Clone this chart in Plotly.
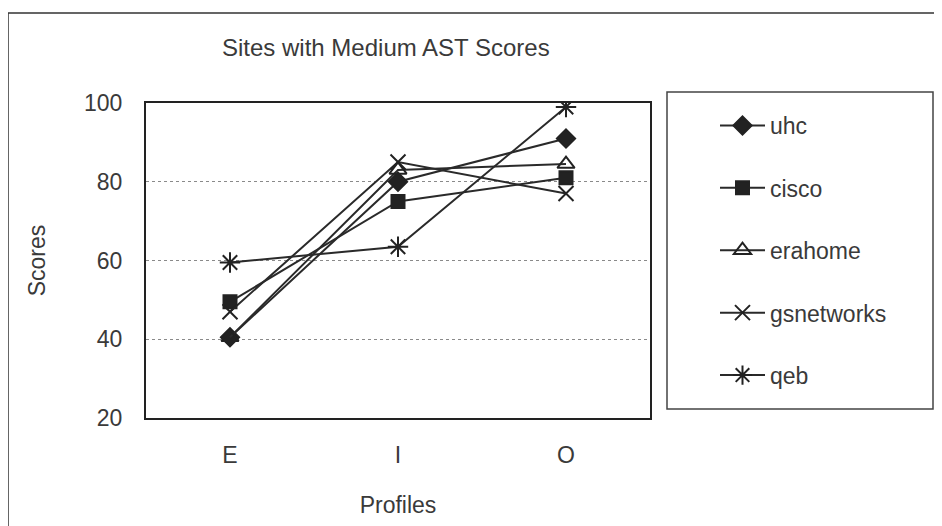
import plotly.graph_objects as go

profiles = ["E", "I", "O"]
uhc = [40.5, 80, 91]
cisco = [49.5, 75, 81]
erahome = [40.5, 83, 84.5]
gsnetworks = [47, 85, 77]
qeb = [59.5, 63.5, 99]

series = [
    ("uhc", uhc, "diamond", 14),
    ("cisco", cisco, "square", 13),
    ("erahome", erahome, "triangle-up-open", 15),
    ("gsnetworks", gsnetworks, "x-thin-open", 15),
    ("qeb", qeb, "asterisk-open", 17),
]

FONT = "Liberation Sans, Arial, sans-serif"
TXT = "#3a3a3a"

# The page body has an 8px margin; lay out in page pixels and convert.
OFF = 8
W, H = 942 - OFF, 526 - OFF
PL, PR, PT, PB = 146, 650, 103, 418  # plot area in page pixels
PW, PH = PR - PL, PB - PT

def px(xp):
    return (xp - PL) / PW

def py(yp):
    return (PB - yp) / PH

fig = go.Figure()
for name, vals, sym, size in series:
    fig.add_trace(go.Scatter(
        x=profiles, y=vals, name=name, mode="lines+markers",
        legendgroup=name,
        line=dict(color="#2a2a2a", width=2),
        marker=dict(symbol=sym, size=size, color="#222222",
                    line=dict(color="#222222", width=2)),
    ))

fig.update_layout(
    width=W, height=H,
    margin=dict(l=PL - OFF, r=W - (PR - OFF), t=PT - OFF, b=H - (PB - OFF)),
    paper_bgcolor="white", plot_bgcolor="white",
    font=dict(family=FONT, size=23, color=TXT),
    title=dict(text="Sites with Medium AST Scores", x=(222 - OFF) / W, xanchor="left",
               xref="container", y=1 - (48 - OFF) / H, yanchor="middle", yref="container",
               font=dict(size=24, color=TXT)),
    showlegend=True,
    legend=dict(x=px(715), xanchor="left", y=py(104), yanchor="top",
                bgcolor="rgba(0,0,0,0)", borderwidth=0,
                tracegroupgap=29.5, itemwidth=45,
                font=dict(size=23, color=TXT)),
    xaxis=dict(range=[-0.5, 2.5], showgrid=False, showline=True, mirror=True,
               linecolor="#222222", linewidth=2, ticks="", zeroline=False,
               title=dict(text="Profiles", standoff=30, font=dict(size=23)),
               ticklabelstandoff=15),
    yaxis=dict(range=[20, 100], dtick=20, showgrid=True, gridcolor="#8a8a8a",
               griddash="dot", gridwidth=1, showline=True, mirror=True,
               linecolor="#222222", linewidth=2, ticks="", zeroline=False,
               title=dict(text="Scores", standoff=32, font=dict(size=23)),
               ticklabelstandoff=17),
    shapes=[
        # legend box
        dict(type="rect", xref="paper", yref="paper",
             x0=px(667), x1=px(933), y0=py(409), y1=py(92),
             line=dict(color="#444444", width=1.5), fillcolor="rgba(0,0,0,0)"),
        # chart area border (left and top edges visible)
        dict(type="rect", xref="paper", yref="paper",
             x0=px(8), x1=px(1100), y0=py(700), y1=py(13),
             line=dict(color="#333333", width=1.5), fillcolor="rgba(0,0,0,0)",
             layer="below"),
    ],
)

fig.write_html("out.html")
